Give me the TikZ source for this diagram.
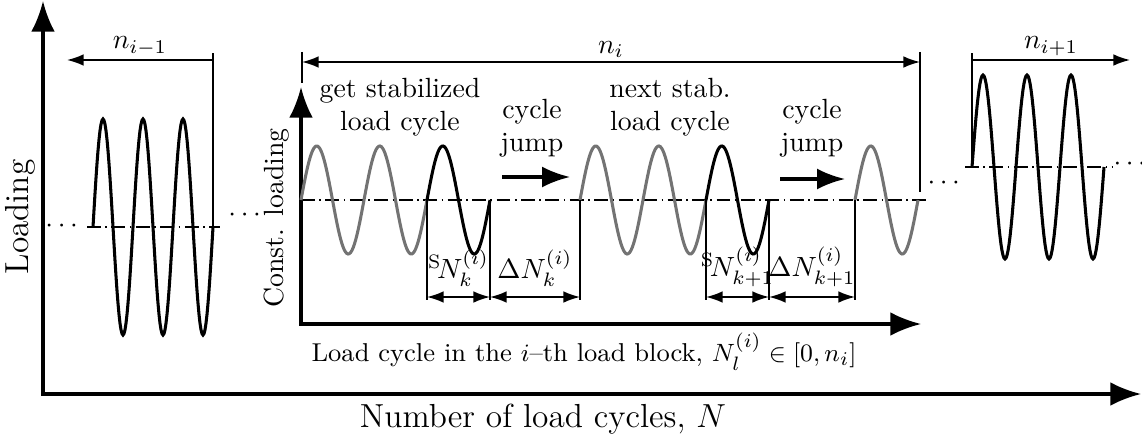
\documentclass[tikz,border=0pt]{standalone}
\usepackage{amsmath, amssymb}
\usetikzlibrary{arrows.meta, positioning}

\tikzset{
  axisline/.style={line width=1.1pt, {Latex[length=11pt,width=8.5pt]}-{Latex[length=11pt,width=8.5pt]}},
  wave/.style={line width=1.1pt},
  graywave/.style={line width=1.1pt, draw=black!55},
  centerline/.style={line width=0.6pt, dash pattern=on 5pt off 1.6pt on 0.6pt off 1.6pt},
  tickline/.style={line width=0.7pt},
  dimline/.style={line width=0.6pt, >={Latex[length=6pt,width=4.2pt]}},
  jumparrow/.style={line width=1.1pt, -{Latex[length=10pt,width=7.5pt]}},
  blocktext/.style={align=center, inner sep=0pt},
}

\begin{document}
\begin{tikzpicture}[x=0.36pt, y=-0.36pt]
    \useasboundingbox (0,0) rectangle (1142,438);

    %外側の軸
    \coordinate (Otop) at (43,1);
    \coordinate (O) at (43,394);
    \coordinate (Oend) at (1141,394);
    \draw[axisline] (Otop) -- (O) -- (Oend);
    \node[rotate=90, font=\large] (loading) at (20,217) {Loading};
    \node[font=\large] (numcycles) at (543,419) {Number of load cycles, $N$};

    %内側の軸
    \coordinate (itop) at (301,87);
    \coordinate (io) at (301,324);
    \coordinate (iend) at (921,324);
    \draw[axisline] (itop) -- (io) -- (iend);
    \node[rotate=90] (constload) at (277,218) {Const. loading};
    \node[font=\fontsize{9.3}{11}\selectfont] (blockcycles) at (584,352) {Load cycle in the $i$--th load block, $N_l^{(i)}\in[0,n_i]$};

    %前のブロック
    \draw[centerline] (87,227) -- (220,227);
    \draw[wave] plot[domain=93:213, samples=121] (\x,{227-108*sin(9*(\x-93))});
    \node (dotsA) at (64,226) {$\cdots$};
    \node (dotsB) at (247,215) {$\cdots$};
    \coordinate (Lbot) at (213,227);
    \coordinate (Ltop) at (213,53);
    \draw[tickline] (Lbot) -- (Ltop);
    \coordinate (Lstart) at (213,60);
    \coordinate (Lend) at (67,60);
    \draw[dimline,->] (Lstart) -- node[above=-2pt] (nprev) {$n_{i-1}$} (Lend);

    %i番目のブロック
    \draw[centerline] (301,200) -- (928,200);
    \draw[graywave] plot[domain=301:427, samples=100] (\x,{200-54*sin(360/63*(\x-301))});
    \draw[wave] plot[domain=427:490, samples=60] (\x,{200-54*sin(360/63*(\x-301))});
    \draw[graywave] plot[domain=580:706, samples=100] (\x,{200-54*sin(360/63*(\x-580))});
    \draw[wave] plot[domain=706:769, samples=60] (\x,{200-54*sin(360/63*(\x-580))});
    \draw[graywave] plot[domain=855:918, samples=60] (\x,{200-54*sin(360/63*(\x-855))});

    \foreach \xx/\nm in {427/a,490/b,580/c,706/d,769/e,855/f}{
        \coordinate (\nm top) at (\xx,200);
        \coordinate (\nm bot) at (\xx,300);
        \coordinate (\nm dim) at (\xx,297);
        \draw[tickline] (\nm top) -- (\nm bot);
    }
    \draw[dimline,<->] (adim) -- node[above=0pt] (stabk) {${}^{\mathrm{S}}\!N_k^{(i)}$} (bdim);
    \draw[dimline,<->] (bdim) -- node[above=0pt] (jumpk) {$\Delta N_k^{(i)}$} (cdim);
    \draw[dimline,<->] (ddim) -- node[above=0pt] (stabkk) {${}^{\mathrm{S}}\!N_{k+1}^{(i)}$} (edim);
    \draw[dimline,<->] (edim) -- node[above=0pt] (jumpkk) {$\Delta N_{k+1}^{(i)}$} (fdim);

    \coordinate (Ileft) at (302,52);
    \coordinate (Ileftbot) at (302,83);
    \coordinate (Iright) at (920,52);
    \coordinate (Irightbot) at (920,192);
    \draw[tickline] (Ileft) -- (Ileftbot);
    \draw[tickline] (Iright) -- (Irightbot);
    \coordinate (IdimA) at (302,62);
    \coordinate (IdimB) at (920,62);
    \draw[dimline,<->] (IdimA) -- node[above=-2pt] (ncur) {$n_i$} (IdimB);

    \node[blocktext] (getstab) at (400,107) {get stabilized\\load cycle};
    \node[blocktext] (jumpA) at (532,128) {cycle\\jump};
    \node[blocktext] (nextstab) at (670,107) {next stab.\\load cycle};
    \node[blocktext] (jumpB) at (812,128) {cycle\\jump};
    \coordinate (jA1) at (502,177);
    \coordinate (jA2) at (570,177);
    \coordinate (jB1) at (780,179);
    \coordinate (jB2) at (845,179);
    \draw[jumparrow] (jA1) -- (jA2);
    \draw[jumparrow] (jB1) -- (jB2);

    %次のブロック
    \node (dotsC) at (946,183) {$\cdots$};
    \draw[centerline] (965,167) -- (1112,167);
    \draw[wave] plot[domain=972:1104, samples=133] (\x,{167-92*sin(360/44*(\x-972))});
    \node (dotsD) at (1132,164) {$\cdots$};
    \coordinate (Rbot) at (972,167);
    \coordinate (Rtop) at (972,53);
    \draw[tickline] (Rbot) -- (Rtop);
    \coordinate (Rstart) at (972,60);
    \coordinate (Rend) at (1130,60);
    \draw[dimline,->] (Rstart) -- node[above=-2pt] (nnext) {$n_{i+1}$} (Rend);
\end{tikzpicture}
\end{document}
